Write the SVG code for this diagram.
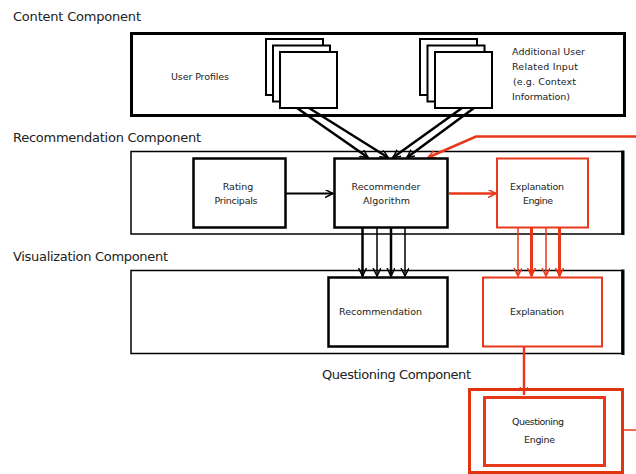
<svg xmlns="http://www.w3.org/2000/svg" width="636" height="474" viewBox="0 0 636 474">
<defs>
<marker id="ab" markerWidth="10" markerHeight="10" refX="8" refY="4" orient="auto" markerUnits="userSpaceOnUse">
<path d="M0,0 L8,4 L0,8" fill="none" stroke="#000" stroke-width="1.5"/>
</marker>
<marker id="ar" markerWidth="10" markerHeight="10" refX="8" refY="4" orient="auto" markerUnits="userSpaceOnUse">
<path d="M0,0 L8,4 L0,8" fill="none" stroke="#e8391a" stroke-width="1.5"/>
</marker>
</defs>
<style>
.lbl{font-family:"DejaVu Sans","Liberation Sans",sans-serif;font-size:13px;fill:#222}
.t{font-family:"DejaVu Sans","Liberation Sans",sans-serif;font-size:9.5px;fill:#222}
.c{text-anchor:middle}
.cont{fill:#fff;stroke:#000;stroke-width:1.5}
.box{fill:#fff;stroke:#000;stroke-width:2.5}
.sheet{fill:#fff;stroke:#000;stroke-width:2}
.rbox{fill:#fff;stroke:#e8391a;stroke-width:2}
.bl{stroke:#000;fill:none}
.rl{stroke:#e8391a;fill:none}
</style>
<rect width="636" height="474" fill="#fff"/>

<text class="lbl" x="13" y="21" textLength="128" lengthAdjust="spacing">Content Component</text>
<text class="lbl" x="13" y="142" textLength="188" lengthAdjust="spacing">Recommendation Component</text>
<text class="lbl" x="13" y="261" textLength="155" lengthAdjust="spacing">Visualization Component</text>
<text class="lbl" x="322" y="379" textLength="149" lengthAdjust="spacing">Questioning Component</text>

<g id="content-component">
<rect x="131.5" y="33.5" width="493" height="82" fill="#fff" stroke="#000" stroke-width="3"/>
<text class="t" x="171" y="80" textLength="58" lengthAdjust="spacing">User Profiles</text>
<text class="t" x="512" y="55" textLength="73" lengthAdjust="spacing">Additional  User</text>
<text class="t" x="512" y="70" textLength="66" lengthAdjust="spacing">Related Input</text>
<text class="t" x="513" y="85" textLength="63" lengthAdjust="spacing">(e.g. Context</text>
<text class="t" x="512" y="100" textLength="58" lengthAdjust="spacing">Information)</text>
</g>
<g id="user-profiles">
<rect class="sheet" x="266" y="39" width="57" height="56"/>
<rect class="sheet" x="273" y="45.5" width="57" height="56"/>
<rect class="sheet" x="280" y="52" width="57" height="56"/>
</g>
<g id="additional-input">
<rect class="sheet" x="420" y="39" width="57" height="56"/>
<rect class="sheet" x="427.5" y="45.5" width="57" height="56"/>
<rect class="sheet" x="435" y="52" width="57" height="56"/>
</g>

<g id="recommendation-component">
<rect class="cont" x="131" y="151.5" width="491" height="82.5"/>
<line x1="623" y1="150.5" x2="623" y2="235" stroke="#000" stroke-width="3"/>
</g>
<g id="visualization-component">
<rect class="cont" x="131" y="270.5" width="491" height="83"/>
<line x1="623" y1="269.5" x2="623" y2="355" stroke="#000" stroke-width="3"/>
</g>

<g id="connectors">
<line class="bl" stroke-width="2.5" x1="297" y1="108" x2="368" y2="157.5" marker-end="url(#ab)"/>
<line class="bl" stroke-width="2.5" x1="309" y1="108" x2="388" y2="157.5" marker-end="url(#ab)"/>
<line class="bl" stroke-width="2.5" x1="462" y1="108" x2="393" y2="157.5" marker-end="url(#ab)"/>
<line class="bl" stroke-width="2.5" x1="474" y1="108" x2="407" y2="157.5" marker-end="url(#ab)"/>
<polyline class="rl" stroke-width="2.5" points="636,136.5 476,136.5 428,157.5" marker-end="url(#ar)"/>
<line class="bl" stroke-width="2" x1="286" y1="193.5" x2="333" y2="193.5" marker-end="url(#ab)"/>
<line class="rl" stroke-width="2.5" x1="449" y1="193.5" x2="496" y2="193.5" marker-end="url(#ar)"/>
<line class="bl" stroke-width="2.5" x1="362.5" y1="228" x2="362.5" y2="276" marker-end="url(#ab)"/>
<line class="bl" stroke-width="1.5" x1="377" y1="228" x2="377" y2="276" marker-end="url(#ab)"/>
<line class="bl" stroke-width="2.5" x1="391" y1="228" x2="391" y2="276" marker-end="url(#ab)"/>
<line class="bl" stroke-width="1.5" x1="405" y1="228" x2="405" y2="276" marker-end="url(#ab)"/>
<line class="rl" stroke-width="1.5" x1="518" y1="228" x2="518" y2="276" marker-end="url(#ar)"/>
<line class="rl" stroke-width="3" x1="531.5" y1="228" x2="531.5" y2="276" marker-end="url(#ar)"/>
<line class="rl" stroke-width="1.5" x1="546" y1="228" x2="546" y2="276" marker-end="url(#ar)"/>
<line class="rl" stroke-width="3" x1="559.5" y1="228" x2="559.5" y2="276" marker-end="url(#ar)"/>
<line class="rl" stroke-width="2.5" x1="524" y1="347" x2="524" y2="395" marker-end="url(#ar)"/>
<line class="rl" stroke-width="1.5" x1="623" y1="430" x2="636" y2="430"/>
</g>

<g id="rating-principals">
<rect class="box" x="193.5" y="158.5" width="92" height="69"/>
<text class="t c" x="238" y="190">Rating</text>
<text class="t c" x="236" y="204" textLength="43" lengthAdjust="spacing">Principals</text>
</g>
<g id="recommender-algorithm">
<rect class="box" x="334.5" y="158.5" width="113" height="69" stroke-width="3"/>
<text class="t c" x="386" y="190" textLength="69" lengthAdjust="spacing">Recommender</text>
<text class="t c" x="386.5" y="204" textLength="47" lengthAdjust="spacing">Algorithm</text>
</g>
<g id="explanation-engine">
<rect class="rbox" x="497" y="158.5" width="91" height="69"/>
<text class="t c" x="537" y="190" textLength="54" lengthAdjust="spacing">Explanation</text>
<text class="t c" x="538" y="204" textLength="30" lengthAdjust="spacing">Engine</text>
</g>
<g id="recommendation">
<rect class="box" x="328.5" y="277.5" width="119" height="69"/>
<text class="t c" x="380.5" y="315" textLength="83" lengthAdjust="spacing">Recommendation</text>
</g>
<g id="explanation">
<rect class="rbox" x="483" y="277.5" width="119" height="69"/>
<text class="t c" x="537" y="315" textLength="54" lengthAdjust="spacing">Explanation</text>
</g>
<g id="questioning-component">
<rect x="469.5" y="389.5" width="153" height="83" fill="#fff" stroke="#e0330f" stroke-width="3"/>
</g>
<g id="questioning-engine">
<rect x="484.5" y="397.5" width="120" height="68" fill="#fff" stroke="#e8391a" stroke-width="3"/>
<text class="t c" x="538" y="425" textLength="52" lengthAdjust="spacing">Questioning</text>
<text class="t c" x="539.5" y="443" textLength="31" lengthAdjust="spacing">Engine</text>
</g>
<line class="rl" stroke-width="2.5" x1="524" y1="390" x2="524" y2="395" />
</svg>
